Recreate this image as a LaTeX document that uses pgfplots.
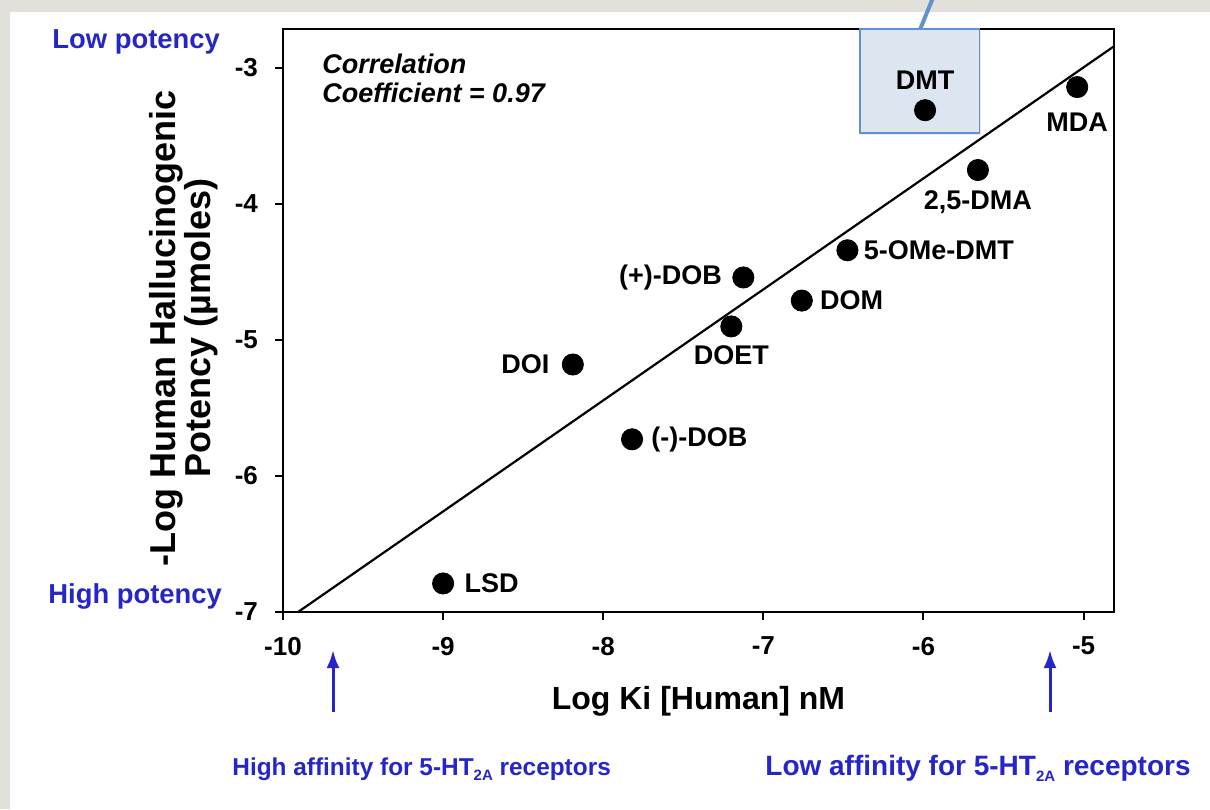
\documentclass[border=0pt]{standalone}
\usepackage{fontspec}
\setmainfont{Liberation Sans}
\usepackage{pgfplots}
\pgfplotsset{compat=1.18}
\usetikzlibrary{arrows.meta}
\definecolor{annblue}{RGB}{38,38,200}
\definecolor{boxfill}{RGB}{221,229,241}
\definecolor{boxedge}{RGB}{96,146,208}
\definecolor{paper}{RGB}{226,224,219}
\newcommand{\lab}{\fontsize{13.5}{16}\selectfont\bfseries}
\newcommand{\subtwoA}{\raisebox{-0.45ex}{\fontsize{7.5}{8}\selectfont 2A}}
\pgfplotstableread{
x y
-9.00 -6.79
-8.19 -5.18
-7.82 -5.73
-7.125 -4.54
-7.20 -4.90
-6.76 -4.71
-6.475 -4.34
-5.66 -3.75
-5.99 -3.31
-5.04 -3.14
}\pts
\begin{document}
\begin{tikzpicture}
\begin{scope}[x=0.5pt,y=-0.5pt]
\fill[paper] (0,0) rectangle (1210,809);
\fill[white] (10,12) rectangle (1210,809);
\end{scope}
\begin{axis}[
  at={(141.5pt,-306pt)}, anchor=south west,
  scale only axis, width=415.5pt, height=291.5pt,
  xmin=-10, xmax=-4.81, ymin=-7, ymax=-2.713,
  xtick={-10,-9,-8,-7,-6,-5}, ytick={-7,-6,-5,-4,-3},
  tick align=outside, major tick length=4pt,
  xtick pos=bottom, ytick pos=left,
  tick style={line width=1pt, black},
  axis line style={line width=1.3pt},
  /pgf/number format/assume math mode=true,
  ticklabel style={font=\fontsize{13}{15}\selectfont\bfseries},
  xticklabel style={yshift=-5pt},
  yticklabel style={xshift=-5pt},
  xlabel={Log Ki [Human] nM},
  ylabel={-Log Human Hallucinogenic\\Potency (µmoles)},
  xlabel style={font=\fontsize{16}{18.5}\selectfont\bfseries, at={(axis description cs:0.5,0)}, anchor=base, yshift=-48.5pt},
  ylabel style={font=\fontsize{18}{17.5}\selectfont\bfseries, align=center, at={(axis description cs:-0.119,0.487)}, anchor=center},
  clip=false,
]
% DMT callout box
\fill[black!9] (axis cs:-6.385,-2.73) rectangle (axis cs:-5.64,-3.495);
\draw[boxedge, line width=0.9pt, fill=boxfill] (axis cs:-6.394,-2.713) rectangle (axis cs:-5.65,-3.478);
\draw[boxedge, line width=2pt] (axis cs:-6.02,-2.713) -- (axis cs:-5.944,-2.493);
% regression line
\addplot[no marks, line width=1.1pt, black] coordinates {(-9.906,-7) (-4.81,-2.84)};
% data
\addplot[only marks, mark=*, mark size=5.3pt, black] table[x=x,y=y] {\pts};
% point labels
\node[font=\lab, inner sep=0, anchor=west, xshift=10.5pt] at (axis cs:-9.00,-6.79) {LSD};
\node[font=\lab, inner sep=0, anchor=east, xshift=-11.5pt] at (axis cs:-8.19,-5.18) {DOI};
\node[font=\lab, inner sep=0, anchor=west, xshift=9.5pt] at (axis cs:-7.82,-5.73) {(-)-DOB};
\node[font=\lab, inner sep=0, anchor=east, xshift=-10.5pt] at (axis cs:-7.125,-4.54) {(+)-DOB};
\node[font=\lab, inner sep=0, anchor=north, yshift=-9.5pt] at (axis cs:-7.20,-4.90) {DOET};
\node[font=\lab, inner sep=0, anchor=west, xshift=9pt] at (axis cs:-6.76,-4.71) {DOM};
\node[font=\lab, inner sep=0, anchor=west, xshift=8pt] at (axis cs:-6.475,-4.34) {5-OMe-DMT};
\node[font=\lab, inner sep=0, anchor=north, yshift=-10pt] at (axis cs:-5.66,-3.75) {2,5-DMA};
\node[font=\lab, inner sep=0, anchor=north, yshift=-12.5pt] at (axis cs:-5.04,-3.14) {MDA};
\node[font=\lab, inner sep=0, anchor=base, yshift=10.5pt] at (axis cs:-5.99,-3.31) {DMT};
\node[font=\fontsize{13.5}{14.5}\selectfont\bfseries\itshape, inner sep=0, anchor=base west, align=left] at (axis cs:-9.756,-3.25) {Correlation\\Coefficient = 0.97};
\end{axis}
\begin{scope}[x=0.5pt,y=-0.5pt]
\node[annblue, font=\fontsize{13.7}{16}\selectfont\bfseries, inner sep=0, anchor=base west] at (52,48) {Low potency};
\node[annblue, font=\fontsize{13.7}{16}\selectfont\bfseries, inner sep=0, anchor=base west] at (48,603) {High potency};
\node[annblue, font=\fontsize{12.2}{15}\selectfont\bfseries, inner sep=0, anchor=base west] at (232,775) {High affinity for 5-HT\subtwoA{} receptors};
\node[annblue, font=\fontsize{14}{15}\selectfont\bfseries, inner sep=0, anchor=base west] at (765,775) {Low affinity for 5-HT\subtwoA{} receptors};
\draw[annblue, line width=1.5pt, -{Latex[length=9pt,width=6.5pt]}] (333,712) -- (333,650);
\draw[annblue, line width=1.5pt, -{Latex[length=9pt,width=6.5pt]}] (1050,712) -- (1050,650);
\end{scope}
\pgfresetboundingbox
\path[x=0.5pt,y=-0.5pt] (0,0) rectangle (1210,809);
\end{tikzpicture}
\end{document}
